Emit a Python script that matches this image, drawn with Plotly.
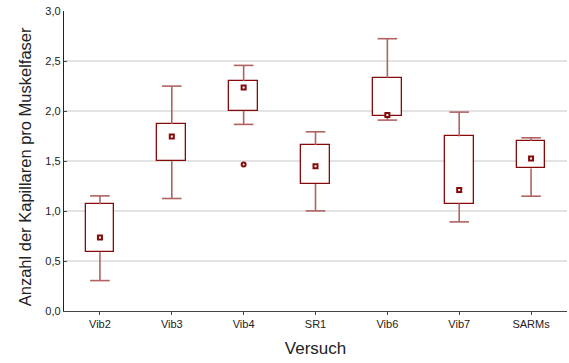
import plotly.graph_objects as go

# Box-plot statistics per trial group
versuch = ["Vib2", "Vib3", "Vib4", "SR1", "Vib6", "Vib7", "SARMs"]
median = [0.735, 1.745, 2.235, 1.448, 1.960, 1.211, 1.526]
q1 = [0.588, 1.498, 2.002, 1.271, 1.946, 1.075, 1.426]
q3 = [1.068, 1.869, 2.299, 1.659, 2.332, 1.746, 1.699]
whisker_low = [0.304, 1.125, 1.866, 1.001, 1.909, 0.891, 1.148]
whisker_high = [1.151, 2.249, 2.456, 1.792, 2.723, 1.989, 1.732]
outlier_x = ["Vib4"]
outlier_y = [1.466]

box_color = "rgb(135,10,10)"
whisker_color = "rgb(178,98,98)"
axis_color = "#444"
n = len(versuch)

fig = go.Figure()

# vertical whisker segments (Q3 -> max, Q1 -> min), separated by gaps
wx, wy = [], []
for v, lo, b, t, hi in zip(versuch, whisker_low, q1, q3, whisker_high):
    wx += [v, v, None, v, v, None]
    wy += [t, hi, None, b, lo, None]
fig.add_trace(go.Scatter(
    x=wx, y=wy, mode="lines", line=dict(color=whisker_color, width=1.6),
    hoverinfo="skip", showlegend=False))

# whisker caps
fig.add_trace(go.Scatter(
    x=versuch + versuch, y=whisker_high + whisker_low, mode="markers",
    marker=dict(symbol="line-ew", size=14,
                line=dict(color=whisker_color, width=1.6)),
    hoverinfo="skip", showlegend=False))

# interquartile boxes
fig.add_trace(go.Bar(
    x=versuch, y=[t - b for t, b in zip(q3, q1)], base=q1, width=0.4,
    marker=dict(color="white", line=dict(color=box_color, width=1.3)),
    showlegend=False))

# medians
fig.add_trace(go.Scatter(
    x=versuch, y=median, mode="markers",
    marker=dict(symbol="square", size=4, color="white",
                line=dict(color=box_color, width=2)),
    showlegend=False))

# outliers
fig.add_trace(go.Scatter(
    x=outlier_x, y=outlier_y, mode="markers",
    marker=dict(symbol="circle", size=4, color="white",
                line=dict(color=box_color, width=2)),
    showlegend=False))

fig.update_layout(
    width=569, height=363,
    margin=dict(l=64, r=2, t=11, b=52),
    paper_bgcolor="white", plot_bgcolor="white",
    separators=",.",
    font=dict(family="Liberation Sans, Arial, sans-serif", color="#222"),
    bargap=0,
    xaxis=dict(
        type="category", range=[-0.5, 6.5],
        showline=True, linecolor=axis_color, linewidth=1.3,
        ticks="outside", ticklen=3, tickcolor=axis_color,
        tickfont=dict(size=11),
        title=dict(text="Versuch", font=dict(size=17), standoff=12),
        showgrid=False,
    ),
    yaxis=dict(
        range=[0, 3], dtick=0.5, tickformat=".1f",
        showline=True, linecolor="#222", linewidth=1.3,
        ticks="inside", ticklen=3, tickcolor=axis_color,
        tickfont=dict(size=11),
        showgrid=True, gridcolor="#e3e3e3", gridwidth=1.5,
        zeroline=False,
    ),
    # frame on the top and right with inward ticks
    xaxis2=dict(overlaying="x", side="top", range=[-0.5, 6.5],
                tickvals=list(range(n)), showticklabels=False,
                ticks="inside", ticklen=3, tickcolor=axis_color,
                showline=True, linecolor="#777", linewidth=1.3,
                showgrid=False, zeroline=False),
    yaxis2=dict(overlaying="y", side="right", range=[0, 3], dtick=0.5,
                showticklabels=False,
                ticks="inside", ticklen=3, tickcolor=axis_color,
                showline=True, linecolor="#111", linewidth=1.3,
                showgrid=False, zeroline=False),
    annotations=[dict(
        text="Anzahl der Kapillaren pro Muskelfaser",
        xref="paper", yref="paper", x=-0.077, y=0.48,
        xanchor="center", yanchor="middle", textangle=-90,
        showarrow=False, font=dict(size=16.5, color="#222"),
    )],
)

fig.write_html("out.html")
